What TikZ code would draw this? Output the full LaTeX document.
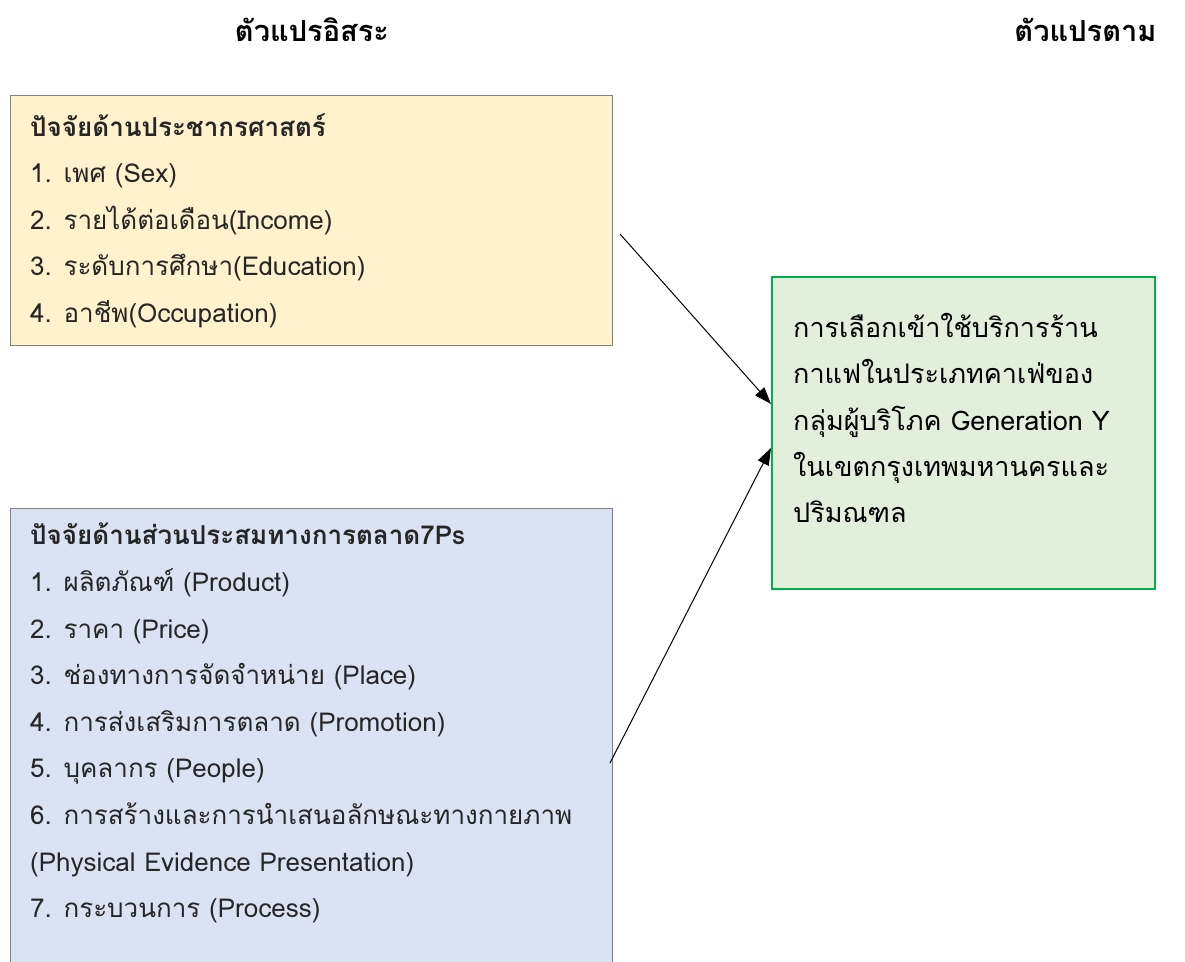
\documentclass[tikz,border=0pt]{standalone}
\usepackage{fontspec}
\setmainfont[Script=Thai]{Loma}
\usetikzlibrary{arrows.meta,positioning}
\definecolor{yelfill}{HTML}{FFF2CC}
\definecolor{bluefill}{HTML}{DAE3F3}
\definecolor{grnfill}{HTML}{E2EFDA}
\definecolor{grnline}{HTML}{00B050}
\definecolor{boxline}{HTML}{7F7F7F}
\definecolor{itemtext}{HTML}{262626}
\tikzset{
  ivbox/.style={draw=boxline, line width=1.2pt, anchor=north west, inner sep=0pt},
  dvbox/.style={draw=grnline, fill=grnfill, line width=2pt, anchor=north west, inner sep=0pt},
  boxtext/.style={anchor=north west, align=left, inner sep=0pt, text=itemtext, font=\fontsize{26}{46.6}\selectfont},
  dvtext/.style={anchor=north west, align=left, inner sep=0pt, font=\fontsize{27}{46.3}\selectfont},
  header/.style={font=\fontsize{29}{34}\selectfont\bfseries},
  conn/.style={line width=1pt, -{Triangle[length=17pt,width=12pt]}}
}
\begin{document}
\begin{tikzpicture}[x=1pt,y=-1pt]
\useasboundingbox (0,0) rectangle (1185,961);
\fill[white] (0,0) rectangle (1185,961);
% headers
\node[header] (hiv) at (312,30) {ตัวแปรอิสระ};
\node[header, anchor=east] (hdv) at (1160,30) {ตัวแปรตาม};
% boxes
\node[ivbox, fill=yelfill, minimum width=602pt, minimum height=250pt] (demo) at (10,95) {};
\node[ivbox, fill=bluefill, minimum width=602pt, minimum height=480pt] (mix) at (10,508) {};
\node[dvbox, minimum width=383pt, minimum height=312pt] (dv) at (771,276) {};
% texts
\node[boxtext] (demot) at (30,113) {\textbf{ปัจจัยด้านประชากรศาสตร์}\\
1. เพศ (Sex)\\
2. รายได้ต่อเดือน(Income)\\
3. ระดับการศึกษา(Education)\\
4. อาชีพ(Occupation)};
\node[boxtext] (mixt) at (30,523) {\textbf{ปัจจัยด้านส่วนประสมทางการตลาด7Ps}\\
1. ผลิตภัณฑ์ (Product)\\
2. ราคา (Price)\\
3. ช่องทางการจัดจำหน่าย (Place)\\
4. การส่งเสริมการตลาด (Promotion)\\
5. บุคลากร (People)\\
6. การสร้างและการนำเสนอลักษณะทางกายภาพ\\
(Physical Evidence Presentation)\\
7. กระบวนการ (Process)};
\node[dvtext] (dvt) at (793,313) {การเลือกเข้าใช้บริการร้าน\\
กาแฟในประเภทคาเฟ่ของ\\
กลุ่มผู้บริโภค Generation Y\\
ในเขตกรุงเทพมหานครและ\\
ปริมณฑล};
% connectors
\coordinate (s1) at (620,234);
\coordinate (s2) at (610,763);
\draw[conn] (s1) -- ([yshift=29pt]dv.west);
\draw[conn] (s2) -- ([yshift=-15pt]dv.west);
\end{tikzpicture}
\end{document}
